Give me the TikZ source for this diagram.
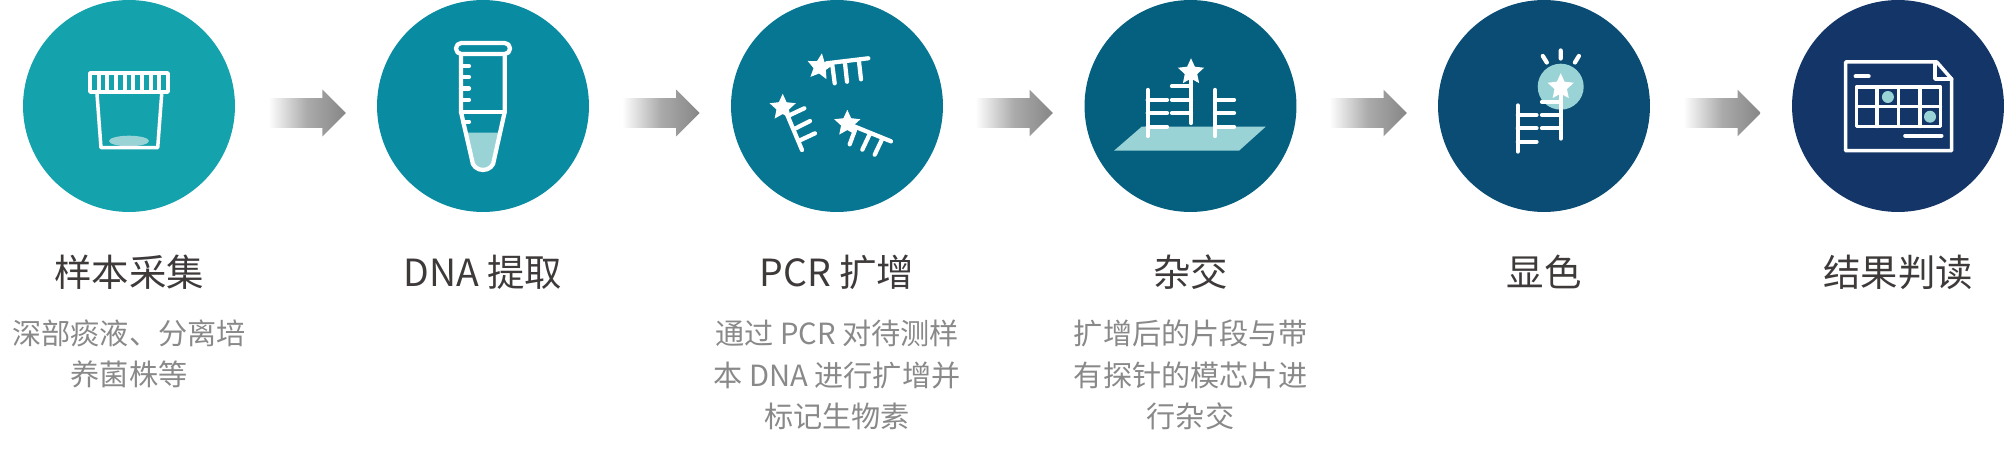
\documentclass[tikz,border=0pt]{standalone}
\usepackage{fontspec}
\setmainfont{Noto Sans CJK SC}
\usepackage{xcolor}
\usetikzlibrary{shapes.geometric, shapes.arrows}

\definecolor{stepa}{HTML}{14A2AD}
\definecolor{stepb}{HTML}{098BA1}
\definecolor{stepc}{HTML}{067692}
\definecolor{stepd}{HTML}{056080}
\definecolor{stepe}{HTML}{0A4C74}
\definecolor{stepf}{HTML}{133567}
\definecolor{paleteal}{HTML}{9AD3D6}
\definecolor{arrowgray}{HTML}{868686}
\definecolor{titlegray}{HTML}{3E3A39}
\definecolor{descgray}{HTML}{898989}

\begin{document}
\begin{tikzpicture}[x=0.02cm, y=-0.02cm,
        stepcircle/.style={circle, minimum size=4.24cm, inner sep=0pt},
        steparrow/.style={single arrow, anchor=tail, minimum height=1.55cm, minimum width=0.92cm, inner sep=0pt,
            text height=0.29cm, text depth=0.29cm,
            single arrow head extend=0.17cm, single arrow tip angle=90,
            left color=white, right color=arrowgray, middle color=arrowgray!70, shading angle=90},
        titletext/.style={font=\fontsize{21.3}{25}\selectfont, text=titlegray, inner sep=0pt},
        desctext/.style={font=\fontsize{16.6}{23.6}\selectfont, text=descgray, align=center, inner sep=0pt},
        iconline/.style={draw=white, line width=0.085cm, line cap=round, line join=round},
        thinline/.style={draw=white, line width=0.07cm, line cap=round, line join=round},
        starmark/.style={star, star points=5, star point ratio=2.1, fill=white, inner sep=0pt, minimum size=0.55cm},
        palefill/.style={fill=paleteal}
    ]
    \useasboundingbox (0,0) rectangle (2005,459);

    % 圆
    \node[stepcircle, fill=stepa] (s1) at (129,106) {};
    \node[stepcircle, fill=stepb] (s2) at (483,106) {};
    \node[stepcircle, fill=stepc] (s3) at (837,106) {};
    \node[stepcircle, fill=stepd] (s4) at (1190.5,106) {};
    \node[stepcircle, fill=stepe] (s5) at (1544,106) {};
    \node[stepcircle, fill=stepf] (s6) at (1898,106) {};

    % 箭头
    \node[steparrow] (a1) at (268,113) {};
    \node[steparrow] (a2) at (621.7,113) {};
    \node[steparrow] (a3) at (975,113) {};
    \node[steparrow] (a4) at (1329,113) {};
    \node[steparrow] (a5) at (1683,113) {};

    % 样本杯
    \fill[palefill] (129,141) ellipse (20 and 5.3);
    \draw[thinline] (90,73) rectangle (168,92);
    \draw[draw=white, line width=0.08cm] (98.7,73) -- (98.7,92) (107.3,73) -- (107.3,92) (116,73) -- (116,92) (124.7,73) -- (124.7,92)
        (133.3,73) -- (133.3,92) (142,73) -- (142,92) (150.7,73) -- (150.7,92) (159.3,73) -- (159.3,92);
    \draw[thinline] (97,94) -- (101,147.7) -- (157.7,147.7) -- (161.7,94);

    % 离心管
    \fill[palefill] (466,132.7) -- (500.5,132.7) -- (494,160) arc (0:180:11 and 10) -- cycle;
    \draw[iconline] (461,56) -- (461,112) -- (472,160) arc (180:0:11 and 10) -- (504.7,112) -- (504.7,56);
    \draw[iconline] (461,112) -- (504.7,112);
    \draw[iconline, rounded corners=3pt] (456,43) rectangle (510,54);
    \draw[iconline] (461,66) -- (469,66) (461,77) -- (469,77) (461,88.5) -- (469,88.5) (461,99.7) -- (469,99.7) (463,121.7) -- (469,121.7);

    % 扩增片段
    \draw[iconline] (826.7,63.3) -- (868.3,58.3) (832.3,65) -- (834.7,83.3) (845,63.3) -- (847,81.7) (859,61.7) -- (861,79.3);
    \node[starmark, rotate=-8] (t1) at (820,67) {};
    \draw[iconline] (787.3,115) -- (802,150) (790,115) -- (804.3,108.3) (795.7,128.3) -- (810,121) (800.7,140) -- (815,133.3);
    \node[starmark] (t2) at (782.7,107.5) {};
    \draw[iconline] (853.3,126) -- (891,141.3) (855,130) -- (849.7,144.3) (869.3,135) -- (862.3,149.7) (881.7,140) -- (874.7,154.7);
    \node[starmark] (t3) at (847.3,123.5) {};

    % 芯片杂交
    \fill[palefill] (1141.7,126.7) -- (1265.7,126.7) -- (1239,150.7) -- (1114,150.7) -- cycle;
    \draw[iconline] (1147.7,90) -- (1147.7,136) (1147.7,99.7) -- (1167,99.7) (1147.7,113) -- (1167,113) (1147.7,126.7) -- (1167,126.7);
    \draw[iconline] (1215,90) -- (1215,136) (1215,99.7) -- (1234,99.7) (1215,113) -- (1234,113) (1215,126.7) -- (1234,126.7);
    \draw[iconline] (1191,75) -- (1191,123) (1172,86.3) -- (1191,86.3) (1172,99.7) -- (1191,99.7) (1172,113) -- (1191,113);
    \node[starmark] (t4) at (1191,72) {};

    % 显色
    \node[circle, palefill, minimum size=0.92cm, inner sep=0pt] (g1) at (1560.7,86.7) {};
    \draw[iconline] (1560.7,50.5) -- (1560.7,58.5) (1542.8,56) -- (1546.8,62.5) (1578.9,56) -- (1574.9,62.5);
    \draw[iconline] (1560.7,90) -- (1560.7,138.5) (1542,101.7) -- (1560.7,101.7) (1542,115) -- (1560.7,115) (1542,128.3) -- (1560.7,128.3);
    \draw[iconline] (1517.8,105.5) -- (1517.8,151.5) (1517.8,115) -- (1536.5,115) (1517.8,128.3) -- (1536.5,128.3) (1517.8,141.7) -- (1536.5,141.7);
    \node[starmark] (t5) at (1560.7,87) {};

    % 结果报告
    \fill[palefill] (1887.9,97) circle (6);
    \fill[palefill] (1930,116.7) circle (6);
    \draw[thinline] (1845.5,62) -- (1936.8,62) -- (1951.6,79) -- (1951.6,150.7) -- (1845.5,150.7) -- cycle;
    \draw[thinline] (1935,63) -- (1935,79) -- (1951.6,79);
    \draw[iconline] (1855.7,76.3) -- (1868.6,76.3) (1905.3,135.7) -- (1941.4,135.7);
    \draw[thinline] (1856.5,87) rectangle (1940.5,126.5);
    \draw[thinline] (1856.5,106.7) -- (1940.5,106.7) (1877,87) -- (1877,126.5) (1898.4,87) -- (1898.4,126.5) (1920,87) -- (1920,126.5);

    % 标题
    \node[titletext] (h1) at (129,272) {样本采集};
    \node[titletext] (h2) at (483,272) {DNA 提取};
    \node[titletext] (h3) at (837,272) {PCR 扩增};
    \node[titletext] (h4) at (1190.5,272) {杂交};
    \node[titletext] (h5) at (1544,272) {显色};
    \node[titletext] (h6) at (1898,272) {结果判读};

    % 说明
    \node[desctext] (d1) at (129,354) {深部痰液、分离培\\养菌株等};
    \node[desctext] (d3) at (837,375) {通过 PCR 对待测样\\本 DNA 进行扩增并\\标记生物素};
    \node[desctext] (d4) at (1190.5,375) {扩增后的片段与带\\有探针的模芯片进\\行杂交};
\end{tikzpicture}
\end{document}
